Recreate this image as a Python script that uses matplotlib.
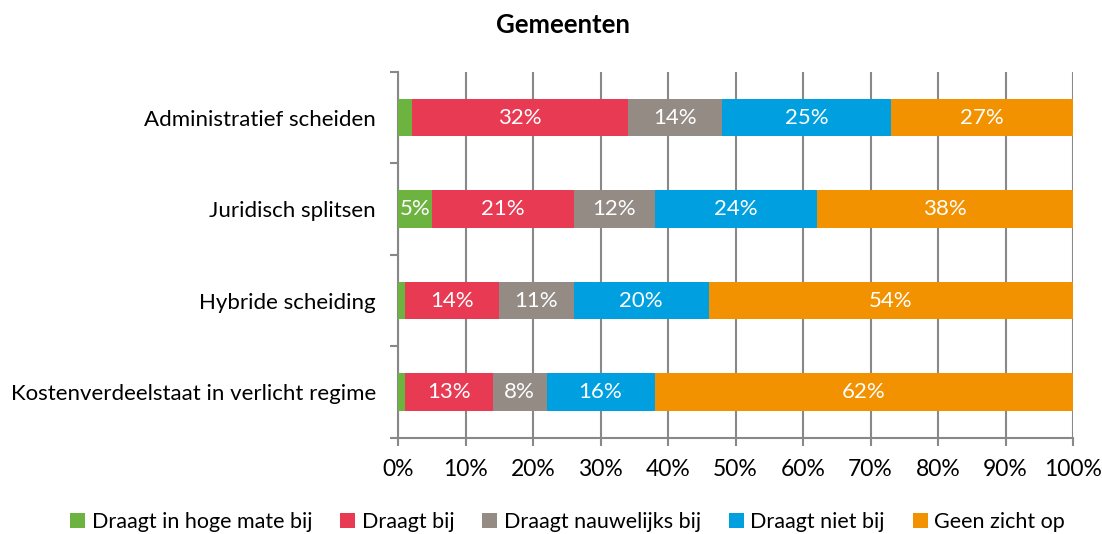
import numpy as np
import matplotlib.pyplot as plt
from matplotlib.ticker import FixedLocator

categories = ["Administratief scheiden", "Juridisch splitsen",
              "Hybride scheiding", "Kostenverdeelstaat in verlicht regime"]
series_names = ["Draagt in hoge mate bij", "Draagt bij", "Draagt nauwelijks bij",
                "Draagt niet bij", "Geen zicht op"]
hoge_mate = [2, 5, 1, 1]
draagt_bij = [32, 21, 14, 13]
nauwelijks = [14, 12, 11, 8]
niet_bij = [25, 24, 20, 16]
geen_zicht = [27, 38, 54, 62]
colors = ["#6db33f", "#e83a52", "#948b85", "#00a0e0", "#f39200"]

plt.rcParams['font.family'] = ['Lato', 'DejaVu Sans']

fig = plt.figure(figsize=(11.02, 5.34), dpi=100)
ax = fig.add_axes([0.3612, 0.1798, 0.6125, 0.6854])

series = [hoge_mate, draagt_bij, nauwelijks, niet_bij, geen_zicht]
ypos = np.arange(len(categories))[::-1]
left = np.zeros(len(categories))
for name, vals, col in zip(series_names, series, colors):
    vals = np.array(vals, dtype=float)
    ax.barh(ypos, vals, left=left, height=0.41, color=col, label=name, zorder=3)
    for y, l, v in zip(ypos, left, vals):
        if v >= 3:
            ax.text(l + v / 2, y, f"{int(v)}%", ha='center', va='center',
                    color='white', fontsize=16, zorder=4)
    left += vals

ax.set_xlim(0, 100)
ax.set_ylim(-0.5, len(categories) - 0.5)
ax.set_xticks(np.arange(0, 101, 10))
ax.set_xticklabels([f"{v}%" for v in range(0, 101, 10)], fontsize=16.5)
ax.set_yticks(ypos)
ax.set_yticklabels(categories, fontsize=16)
ax.yaxis.set_minor_locator(FixedLocator(np.arange(-0.5, len(categories), 1.0)))
ax.tick_params(axis='y', which='major', length=0, pad=16)
ax.tick_params(axis='y', which='minor', length=6, color='#888888', width=1.5)
ax.tick_params(axis='x', length=6, color='#888888', width=1.5, pad=9)
ax.grid(axis='x', color='#888888', linewidth=1.5, zorder=0)
for s in ['top', 'right']:
    ax.spines[s].set_visible(False)
for s in ['left', 'bottom']:
    ax.spines[s].set_color('#888888')
    ax.spines[s].set_linewidth(1.5)

fig.text(0.511, 0.953, "Gemeenten", ha='center', va='center',
         fontsize=18.5, fontweight='bold')

fig.legend(loc='center', bbox_to_anchor=(0.515, 0.022), ncol=5, frameon=False,
           fontsize=15.5, handlelength=0.7, handleheight=0.7, handletextpad=0.3,
           columnspacing=1.3)

fig.savefig("out.png", dpi=100)
